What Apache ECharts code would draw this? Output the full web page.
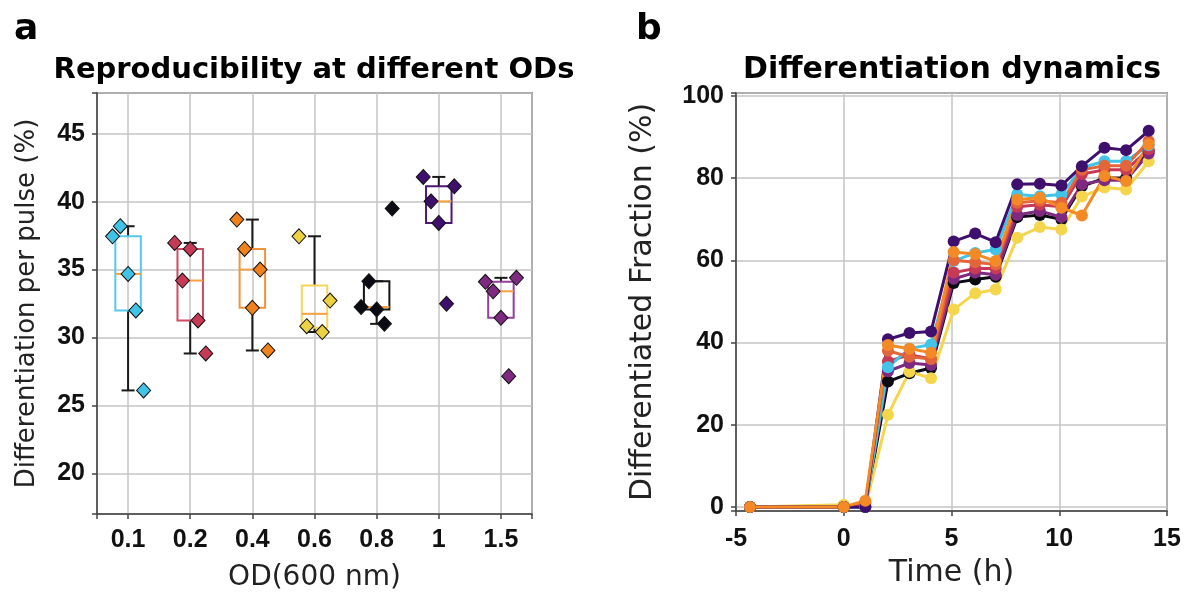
<!DOCTYPE html>
<html lang="en">
<head>
    <meta charset="UTF-8">
    <title>Reproducibility and differentiation dynamics</title>
    <style>
        * { margin: 0; padding: 0; }
        #main { width: 1190px; height: 598px; background: #fff; }
    </style>
</head>
<body>
    <div id="main"></div>
    <script src="https://cdn.jsdelivr.net/npm/echarts@6/dist/echarts.min.js"></script>
    <script>
        // ---- panel a data ----
        var odLabels = ['0.1', '0.2', '0.4', '0.6', '0.8', '1', '1.5'];
        var boxLow = [26.1, 28.82, 29.04, 30.4, 31.0, 38.43, 31.45];
        var boxQ1 = [31.99, 31.25, 32.18, 30.71, 32.06, 38.43, 31.45];
        var boxMedian = [34.68, 34.19, 35.0, 31.74, 32.24, 40.02, 33.4];
        var boxQ3 = [37.45, 36.52, 36.52, 33.82, 34.14, 41.13, 34.1];
        var boxHigh = [38.19, 36.96, 38.68, 37.45, 34.14, 41.82, 34.39];
        var pts01 = [37.45, 38.19, 34.68, 31.99, 26.1];
        var pts02 = [36.96, 34.19, 36.52, 31.25, 28.82];
        var pts04 = [38.68, 36.52, 32.18, 35.0, 29.04];
        var pts06 = [37.45, 30.83, null, 30.4, 32.72];
        var pts08 = [32.24, 34.14, 32.06, 31.0, 39.49];
        var pts1 = [41.82, 40.02, 38.43, 32.48, 41.13];
        var pts15 = [34.1, 33.4, 31.45, 27.15, 34.39];

        // ---- panel b data ----
        var times = [-4.35, 0, 1, 2.05, 3.05, 4.05, 5.1, 6.1, 7.05, 8.05, 9.1, 10.1, 11.05, 12.1, 13.1, 14.15];
        var fracBlack = [0, 0, 0, 30.5, 32.5, 33.8, 54.5, 55.3, 56, 70.5, 71, 70, 78, 80, 80, 86.5];
        var fracYellow = [0, 0.5, 0, 22.4, 32.9, 31.3, 48, 52, 52.9, 65.5, 68.1, 67.5, 75.5, 77.7, 77.2, 84.1];
        var fracPurple = [0, 0, 0, 33, 35, 34.5, 55.5, 57, 56.5, 71, 72, 70.5, 78.5, 79.5, 79.5, 86];
        var fracCrimson = [0, 0, 1, 35.4, 37, 36, 57, 58, 58, 73, 73.5, 73, 81, 82, 82, 87];
        var fracCyan = [0, 0, 0, 34, 38.5, 39.5, 59.8, 61.8, 62.6, 76, 75.6, 76, 82.5, 84.1, 84.1, 88];
        var fracRedOrange = [0, 0, 0.5, 38, 36.5, 36, 60, 59.5, 59, 74, 74.5, 74, 82, 83, 83, 89];
        var fracDarkPurple = [0, 0, 0, 40.8, 42.3, 42.7, 64.6, 66.5, 64.4, 78.5, 78.6, 78.2, 82.9, 87.4, 86.8, 91.5];
        var fracOrange = [0, 0, 1.5, 39.4, 38.5, 37.5, 62, 61.5, 59.8, 74.8, 75.2, 72.8, 70.9, 80.5, 79.3, 88.2];

        var jitter = [-0.25, -0.125, 0, 0.125, 0.25];
        var pointColors = ['#3fc3e6', '#c73a55', '#f0821e', '#ecd142', '#0b0b14', '#3f0f6e', '#7d2a80'];
        var boxColors = ['#55c9ea', '#cc4d63', '#f0933c', '#f5d757', '#151515', '#4a1a72', '#93409a'];

        var tickFont = { fontFamily: 'Liberation Sans', fontWeight: 'bold', fontSize: 25, color: '#111' };
        function nameFont(size) {
            return { fontFamily: 'DejaVu Sans', fontSize: size, color: '#222' };
        }
        var gridLine = { show: true, lineStyle: { color: '#c4c4c4', width: 1.5 } };
        var axisLine = { show: true, onZero: false, lineStyle: { color: '#444', width: 1.5 } };
        var axisTick = { show: true, inside: false, length: 5, lineStyle: { color: '#444', width: 1.5 } };

        var chart = echarts.init(document.getElementById('main'));

        var groups = [pts01, pts02, pts04, pts06, pts08, pts1, pts15];
        var scatterSeries = groups.map(function (pts, i) {
            var data = [];
            pts.forEach(function (v, j) {
                if (v !== null) data.push([i + jitter[j], v]);
            });
            return {
                type: 'scatter',
                xAxisIndex: 0,
                yAxisIndex: 0,
                symbol: 'diamond',
                symbolSize: [14, 15],
                z: 5,
                itemStyle: { color: pointColors[i], borderColor: '#111', borderWidth: 1, opacity: 1 },
                data: data
            };
        });

        var boxData = odLabels.map(function (l, i) {
            return [i, boxLow[i], boxQ1[i], boxMedian[i], boxQ3[i], boxHigh[i]];
        });

        function renderBox(params, api) {
            var x = api.value(0);
            var lo = api.coord([x, api.value(1)]);
            var q1 = api.coord([x, api.value(2)]);
            var md = api.coord([x, api.value(3)]);
            var q3 = api.coord([x, api.value(4)]);
            var hi = api.coord([x, api.value(5)]);
            var bw = api.size([0.41, 0])[0];
            var cw = api.size([0.21, 0])[0];
            var c = boxColors[params.dataIndex];
            var wk = { stroke: '#1a1a1a', lineWidth: 2 };
            return {
                type: 'group',
                children: [
                    { type: 'line', shape: { x1: lo[0], y1: lo[1], x2: q1[0], y2: q1[1] }, style: wk },
                    { type: 'line', shape: { x1: q3[0], y1: q3[1], x2: hi[0], y2: hi[1] }, style: wk },
                    { type: 'line', shape: { x1: lo[0] - cw / 2, y1: lo[1], x2: lo[0] + cw / 2, y2: lo[1] }, style: wk },
                    { type: 'line', shape: { x1: hi[0] - cw / 2, y1: hi[1], x2: hi[0] + cw / 2, y2: hi[1] }, style: wk },
                    { type: 'rect', shape: { x: q3[0] - bw / 2, y: q3[1], width: bw, height: q1[1] - q3[1] },
                      style: { fill: 'rgba(255,255,255,0)', stroke: c, lineWidth: 2 } },
                    { type: 'line', shape: { x1: md[0] - bw / 2, y1: md[1], x2: md[0] + bw / 2, y2: md[1] },
                      style: { stroke: '#f5a043', lineWidth: 2 } }
                ]
            };
        }

        var lineDefs = [
            [fracBlack, '#0b0b14'],
            [fracYellow, '#f4d54c'],
            [fracPurple, '#7d2a80'],
            [fracCrimson, '#c73a55'],
            [fracCyan, '#41c4e8'],
            [fracRedOrange, '#e3653a'],
            [fracDarkPurple, '#3f0f6e'],
            [fracOrange, '#f38a26']
        ];
        var lineSeries = lineDefs.map(function (d) {
            return {
                type: 'line',
                xAxisIndex: 1,
                yAxisIndex: 1,
                symbol: 'circle',
                symbolSize: 12,
                showSymbol: true,
                lineStyle: { color: d[1], width: 3 },
                itemStyle: { color: d[1] },
                data: times.map(function (t, k) { return [t, d[0][k]]; })
            };
        });

        var option = {
            animation: false,
            backgroundColor: '#fff',
            graphic: [
                { type: 'text', left: 14, top: 12, style: { text: 'a', font: 'bold 36px "DejaVu Sans"', fill: '#000' } },
                { type: 'text', left: 636, top: 12, style: { text: 'b', font: 'bold 36px "DejaVu Sans"', fill: '#000' } },
                { type: 'text', x: 314, y: 70, style: { text: 'Reproducibility at different ODs', font: 'bold 29px "DejaVu Sans"', fill: '#000', textAlign: 'center', textVerticalAlign: 'middle' } },
                { type: 'text', x: 952, y: 70, style: { text: 'Differentiation dynamics', font: 'bold 30px "DejaVu Sans"', fill: '#000', textAlign: 'center', textVerticalAlign: 'middle' } }
            ],
            grid: [
                { left: 97, top: 93, width: 435, height: 421, show: true, borderColor: '#444', borderWidth: 1.5, backgroundColor: 'transparent' },
                { left: 736, top: 93, width: 431, height: 418, show: true, borderColor: '#444', borderWidth: 1.5, backgroundColor: 'transparent' }
            ],
            xAxis: [
                {
                    type: 'value', gridIndex: 0, min: -0.5, max: 6.5, splitNumber: 7,
                    name: 'OD(600 nm)', nameLocation: 'middle', nameGap: 50, nameTextStyle: nameFont(28),
                    axisLine: axisLine, axisTick: axisTick, splitLine: gridLine,
                    axisLabel: Object.assign({ margin: 14, formatter: function (v) {
                        return Number.isInteger(v) ? odLabels[v] : '';
                    } }, tickFont)
                },
                {
                    type: 'value', gridIndex: 1, min: -5, max: 15, interval: 5,
                    name: 'Time (h)', nameLocation: 'middle', nameGap: 47, nameTextStyle: nameFont(30),
                    axisLine: axisLine, axisTick: axisTick, splitLine: gridLine,
                    axisLabel: Object.assign({ margin: 16 }, tickFont)
                }
            ],
            yAxis: [
                {
                    type: 'value', gridIndex: 0, min: 17, max: 48,
                    name: 'Differentiation per pulse (%)', nameLocation: 'middle', nameGap: 57, nameTextStyle: nameFont(26),
                    axisLine: axisLine, axisTick: axisTick, splitLine: gridLine,
                    axisLabel: Object.assign({ margin: 12, formatter: function (v) {
                        return v % 5 === 0 ? String(v) : '';
                    } }, tickFont)
                },
                {
                    type: 'value', gridIndex: 1, min: -1, max: 100.7,
                    name: 'Differentiated Fraction (%)', nameLocation: 'middle', nameGap: 78, nameTextStyle: nameFont(30),
                    axisLine: axisLine, axisTick: axisTick, splitLine: gridLine,
                    axisLabel: Object.assign({ margin: 12, formatter: function (v) {
                        return v % 20 === 0 ? String(v) : '';
                    } }, tickFont)
                }
            ],
            series: [
                {
                    type: 'custom',
                    xAxisIndex: 0,
                    yAxisIndex: 0,
                    z: 3,
                    renderItem: renderBox,
                    encode: { x: 0, y: [1, 2, 3, 4, 5] },
                    data: boxData
                }
            ].concat(scatterSeries, lineSeries)
        };

        chart.setOption(option);
    </script>
</body>
</html>
